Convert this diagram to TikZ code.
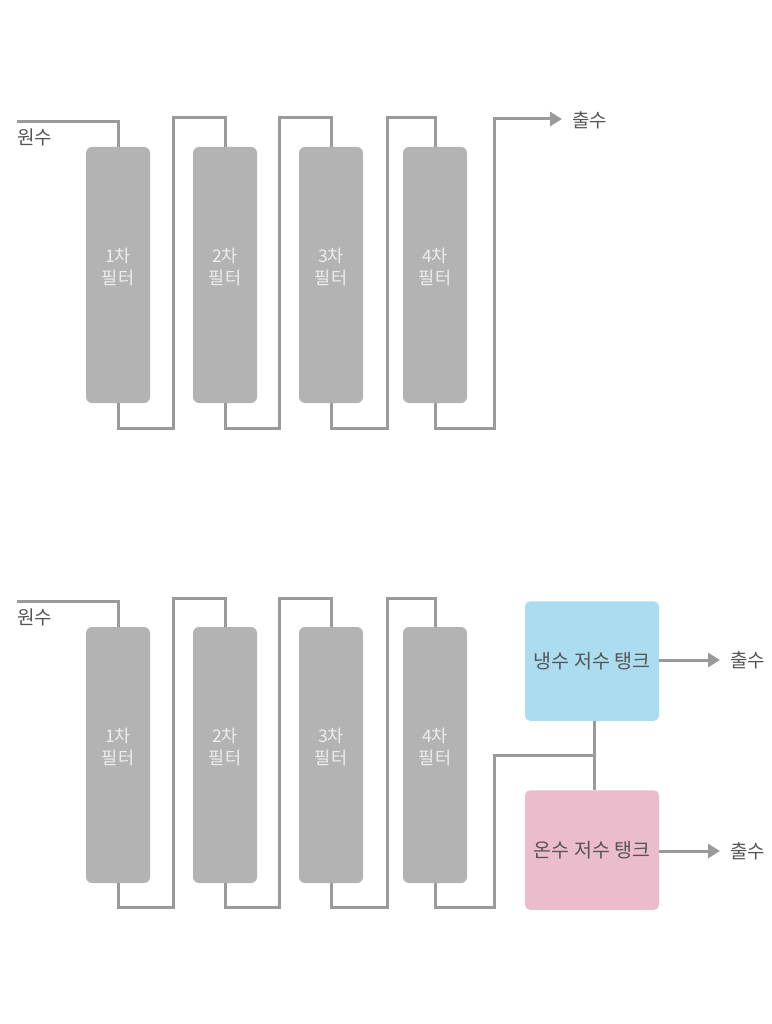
\documentclass[tikz,border=0pt]{standalone}
\usepackage{fontspec}
\setmainfont{Noto Sans CJK KR}
\usetikzlibrary{arrows.meta}
\definecolor{pipec}{HTML}{9A9A9A}
\definecolor{filterc}{HTML}{B3B3B3}
\definecolor{coldc}{HTML}{ACDCF0}
\definecolor{hotc}{HTML}{EBBCCC}
\definecolor{txtc}{HTML}{555555}
\newcommand{\ftxt}[1]{\raisebox{2pt}[0pt][0pt]{\begin{tabular}{@{}c@{}}#1\end{tabular}}}
\tikzset{
  filterbox/.style={fill=filterc, rounded corners=6pt, minimum width=64pt, minimum height=256pt, inner sep=0pt, text=white!93!black, font=\fontsize{17.5}{22}\selectfont},
  tankbox/.style={rounded corners=5pt, minimum width=134pt, minimum height=119.5pt, inner sep=0pt, text=txtc, font=\fontsize{19.5}{22}\selectfont},
  pipe/.style={draw=pipec, line width=3pt},
  outarrow/.style={pipe, -{Triangle[length=12pt,width=14pt]}},
  lbl/.style={text=txtc, font=\fontsize{19}{22}\selectfont, inner sep=0pt, anchor=west}
}
\begin{document}
\begin{tikzpicture}[x=1pt,y=-1pt]
\useasboundingbox (0,0) rectangle (771,1024);
% ---------- top ----------
\node[filterbox] (f1) at (118,275) {\ftxt{1차\\필터}};
\node[filterbox] (f2) at (225,275) {\ftxt{2차\\필터}};
\node[filterbox] (f3) at (331,275) {\ftxt{3차\\필터}};
\node[filterbox] (f4) at (435,275) {\ftxt{4차\\필터}};
\node[lbl] (in1) at (17,137) {원수};
\node[lbl] (out1) at (572,120) {출수};
\coordinate (a0) at (17,122);
\coordinate (a1b) at (173,428); \coordinate (a1t) at (173,118);
\coordinate (a2b) at (279,428); \coordinate (a2t) at (279,118);
\coordinate (a3b) at (387,428); \coordinate (a3t) at (387,118);
\coordinate (a4b) at (494,428); \coordinate (a4t) at (494,119);
\coordinate (aend) at (562,119);
\draw[pipe] (a0) -| (f1.north);
\draw[pipe] (f1.south) |- (a1b) -- (a1t) -| (f2.north);
\draw[pipe] (f2.south) |- (a2b) -- (a2t) -| (f3.north);
\draw[pipe] (f3.south) |- (a3b) -- (a3t) -| (f4.north);
\draw[outarrow] (f4.south) |- (a4b) -- (a4t) -- (aend);
% ---------- bottom ----------
\node[filterbox] (g1) at (118,755) {\ftxt{1차\\필터}};
\node[filterbox] (g2) at (225,755) {\ftxt{2차\\필터}};
\node[filterbox] (g3) at (331,755) {\ftxt{3차\\필터}};
\node[filterbox] (g4) at (435,755) {\ftxt{4차\\필터}};
\node[lbl] (in2) at (17,617) {원수};
\node[tankbox, fill=coldc] (cold) at (592,661) {냉수 저수 탱크};
\node[tankbox, fill=hotc] (hot) at (592,850) {온수 저수 탱크};
\node[lbl] (out2) at (730,660) {출수};
\node[lbl] (out3) at (730,851) {출수};
\coordinate (b0) at (17,601);
\coordinate (b1b) at (173,907); \coordinate (b1t) at (173,598);
\coordinate (b2b) at (279,907); \coordinate (b2t) at (279,598);
\coordinate (b3b) at (387,907); \coordinate (b3t) at (387,598);
\coordinate (b4b) at (494,907); \coordinate (b4t) at (494,755);
\coordinate (junc) at (594,755);
\coordinate (c2) at (720,660);
\coordinate (c3) at (720,851);
\draw[pipe] (b0) -| (g1.north);
\draw[pipe] (g1.south) |- (b1b) -- (b1t) -| (g2.north);
\draw[pipe] (g2.south) |- (b2b) -- (b2t) -| (g3.north);
\draw[pipe] (g3.south) |- (b3b) -- (b3t) -| (g4.north);
\draw[pipe] (g4.south) |- (b4b) -- (b4t) -- (junc);
\draw[pipe] (cold.south -| junc) -- (hot.north -| junc);
\draw[outarrow] (cold.east |- c2) -- (c2);
\draw[outarrow] (hot.east |- c3) -- (c3);
\end{tikzpicture}
\end{document}
